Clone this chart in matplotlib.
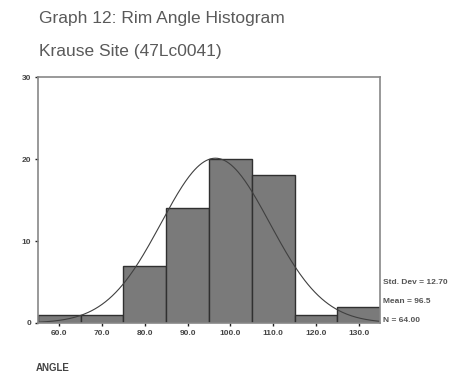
import numpy as np
import matplotlib
matplotlib.use("Agg")
import matplotlib.pyplot as plt

plt.rcParams['font.family'] = ['Liberation Sans', 'DejaVu Sans']

bin_centers = [60, 70, 80, 90, 100, 110, 120, 130]
counts = [1, 1, 7, 14, 20, 18, 1, 2]
tick_labels = ["60.0", "70.0", "80.0", "90.0", "100.0", "110.0", "120.0", "130.0"]
y_ticks = [0, 10, 20, 30]
std_dev = 12.70
mean = 96.5
n = 64.00

fig = plt.figure(figsize=(4.66, 3.76), dpi=100)
ax = fig.add_axes([0.0815, 0.141, 0.734, 0.654])

ax.bar(bin_centers, counts, width=10, color="#7a7a7a", edgecolor="#303030", linewidth=1.0)

# normal curve scaled to counts
xs = np.linspace(55, 135, 300)
ys = n * 10 / (std_dev * np.sqrt(2 * np.pi)) * np.exp(-0.5 * ((xs - mean) / std_dev) ** 2)
ax.plot(xs, ys, color="#404040", linewidth=0.8)

ax.set_xlim(55, 135)
ax.set_ylim(0, 30)
ax.set_xticks(bin_centers)
ax.set_xticklabels(tick_labels, fontsize=6, color="#444444", fontweight="bold")
ax.set_yticks(y_ticks)
ax.set_yticklabels([str(v) for v in y_ticks], fontsize=6, color="#444444", fontweight="bold")
ax.tick_params(length=2, width=1.0, color="#222222", pad=3)
for s in ax.spines.values():
    s.set_color("#888888")
    s.set_linewidth(1.2)

fig.text(0.084, 0.952, "Graph 12: Rim Angle Histogram", fontsize=12.5, color="#5a5a5a", va="center")
fig.text(0.084, 0.862, "Krause Site (47Lc0041)", fontsize=12.5, color="#5a5a5a", va="center")
fig.text(0.076, 0.022, "ANGLE", fontsize=7, color="#444444", va="center", fontweight="bold")

fig.text(0.822, 0.248, "Std. Dev = %.2f" % std_dev, fontsize=6, color="#555555", va="center", fontweight="bold")
fig.text(0.822, 0.197, "Mean = %.1f" % mean, fontsize=6, color="#555555", va="center", fontweight="bold")
fig.text(0.822, 0.148, "N = %.2f" % n, fontsize=6, color="#555555", va="center", fontweight="bold")

fig.savefig("out.png", dpi=100)
